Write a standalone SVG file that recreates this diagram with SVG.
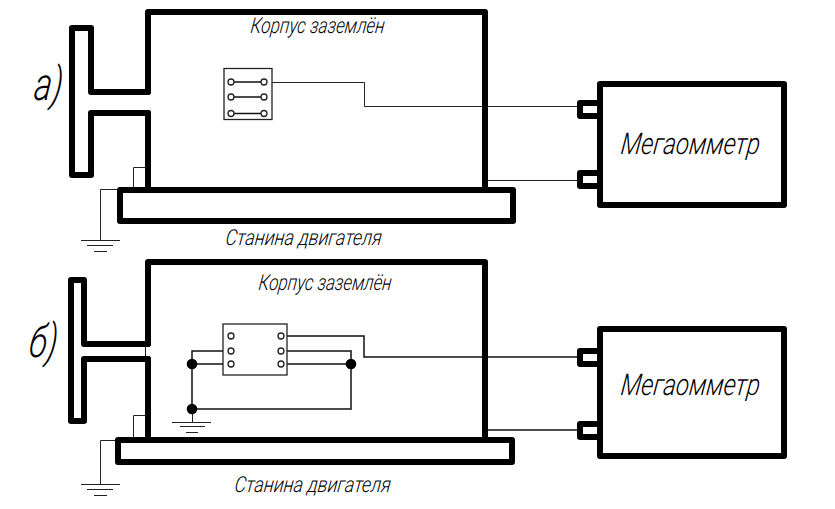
<svg xmlns="http://www.w3.org/2000/svg" width="835" height="509" viewBox="0 0 835 509">
<style>
.b{fill:none;stroke:#000;stroke-width:6;stroke-linejoin:round;stroke-linecap:round}
.w{fill:none;stroke:#222;stroke-width:1}
.m{fill:none;stroke:#111;stroke-width:1.5}
.t{fill:#fff;stroke:#222;stroke-width:1.3}
.d{fill:#000}
text{font-family:Roboto,"Liberation Sans",sans-serif;font-weight:300;font-style:italic;fill:#000}
</style>
<rect width="835" height="509" fill="#fff"/>
<g id="connectors">
<path class="w" d="M264 82.500H364.500V106.500H580M488 180.500H580M133.500 187V167.500H146M117 189.500H100.500V240M81 240.500H120M87 245.500H113M94 251.500H107"/>
<path class="m" d="M281 336H364V357H580M488 430H580"/>
<path class="m" d="M231 351H192V409H351V351H281M231 364H192M281 364H351"/>
<path class="w" d="M192.500 409V422M172 422.500H211M180 426.500H205M186 432.500H198M133.500 440V415.500H146M117 440.500H100.500V484M81 484.500H120M87 489.500H113M94 495.500H107M145.500 344V359"/>
<circle class="d" cx="192" cy="364" r="5.300"/><circle class="d" cx="192" cy="409" r="5.300"/><circle class="d" cx="351" cy="364" r="5.300"/>
</g>
<g id="motor-a"><path class="b" d="M148 92V12H485V190M148 113V190"/></g>
<g id="shaft-a"><path class="b" d="M148 92H91V28H72V175H91V113H148"/></g>
<g id="base-a"><rect class="b" x="120" y="190" width="393" height="31"/></g>
<g id="terminal-a">
<rect class="t" x="224" y="68.500" width="48" height="51"/>
<path class="m" d="M231 82H264M231 97H264M231 113.500H264"/>
<g class="t"><circle cx="231" cy="82" r="3"/><circle cx="264" cy="82" r="3"/><circle cx="231" cy="97" r="3"/><circle cx="264" cy="97" r="3"/><circle cx="231" cy="113.500" r="3"/><circle cx="264" cy="113.500" r="3"/></g>
</g>
<g id="megger-a"><rect class="b" x="600" y="84" width="184" height="121"/><path class="b" d="M597 103H580V116H597M597 173H580V186H597"/></g>
<g id="motor-b"><path class="b" d="M148 344V262H485V440M148 359V440"/></g>
<g id="shaft-b"><path class="b" d="M148 344H84V280H71V421H84V359H148"/></g>
<g id="base-b"><rect class="b" x="118" y="440" width="394" height="22"/></g>
<g id="terminal-b">
<rect class="t" x="223" y="324" width="64" height="51"/>
<g class="t"><circle cx="231" cy="336" r="3"/><circle cx="281" cy="336" r="3"/><circle cx="231" cy="351" r="3"/><circle cx="281" cy="351" r="3"/><circle cx="231" cy="364" r="3"/><circle cx="281" cy="364" r="3"/></g>
</g>
<g id="megger-b"><rect class="b" x="600" y="329" width="184" height="127"/><path class="b" d="M597 351H580V364H597M597 424H580V437H597"/></g>
<g id="labels">
<text transform="translate(250 33) skewX(-7)" font-size="22" textLength="134" lengthAdjust="spacingAndGlyphs">Корпус заземлён</text>
<text transform="translate(225 245) skewX(-7)" font-size="22" textLength="156" lengthAdjust="spacingAndGlyphs">Станина двигателя</text>
<text transform="translate(258 290) skewX(-7)" font-size="22" textLength="133" lengthAdjust="spacingAndGlyphs">Корпус заземлён</text>
<text transform="translate(234 492) skewX(-7)" font-size="22" textLength="156" lengthAdjust="spacingAndGlyphs">Станина двигателя</text>
<text transform="translate(620 154) skewX(-7)" font-size="30" textLength="139" lengthAdjust="spacingAndGlyphs">Мегаомметр</text>
<text transform="translate(620 395) skewX(-7)" font-size="30" textLength="139" lengthAdjust="spacingAndGlyphs">Мегаомметр</text>
<text transform="translate(33 100) skewX(-7)" font-size="46" textLength="28" lengthAdjust="spacingAndGlyphs">а)</text>
<text transform="translate(28 357) skewX(-7)" font-size="46" textLength="28" lengthAdjust="spacingAndGlyphs">б)</text>
</g>
</svg>
